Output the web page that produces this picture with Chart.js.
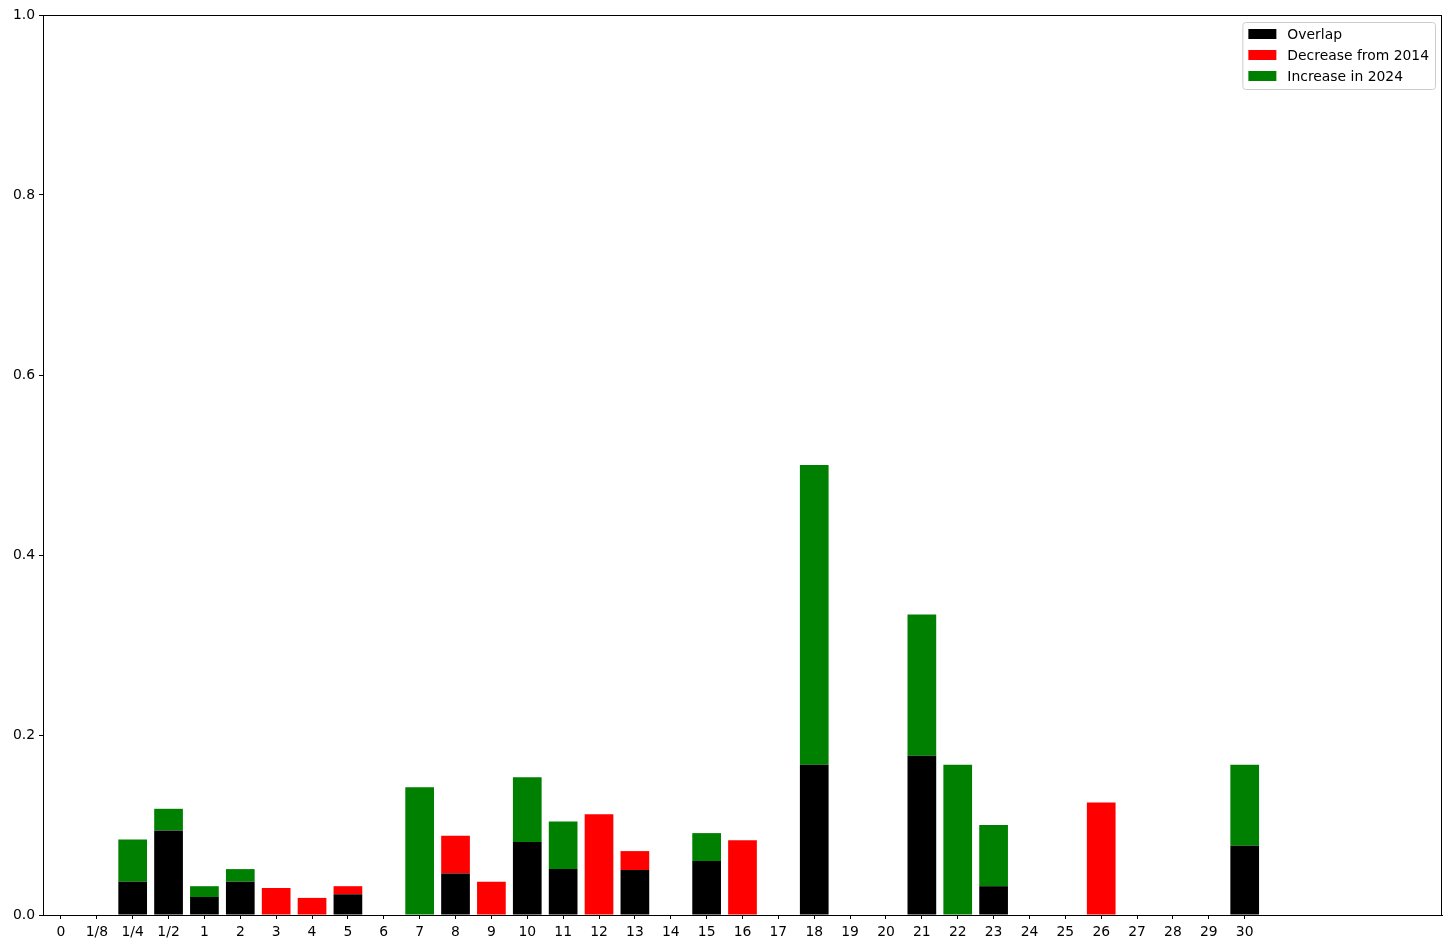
<!DOCTYPE html>
<html>
<head>
<meta charset="utf-8">
<script src="https://cdn.jsdelivr.net/npm/chart.js@4/dist/chart.umd.min.js"></script>
<style>
  html, body { margin: 0; padding: 0; background: #fff; }
  #wrap { width: 1451px; height: 949px; }
</style>
</head>
<body>
<div id="wrap"><canvas id="c"></canvas></div>
<script>
// categories on the x axis
const labels = ['0','1/8','1/4','1/2','1','2','3','4','5','6','7','8','9','10','11','12','13','14','15','16','17','18','19','20','21','22','23','24','25','26','27','28','29','30']

// stacked segments, one value per category
const overlap  = [0,0,0.037,0.094,0.020,0.037,0,0,0.023,0,0,0.046,0,0.081,0.051,0,0.050,0,0.060,0,0,0.167,0,0,0.177,0,0.032,0,0,0,0,0,0,0.077]
const decrease = [0,0,0,0,0,0,0.030,0.019,0.009,0,0,0.042,0.037,0,0,0.112,0.021,0,0,0.083,0,0,0,0,0,0,0,0,0,0.125,0,0,0,0]
const increase = [0,0,0.047,0.024,0.012,0.014,0,0,0,0,0.142,0,0,0.072,0.053,0,0,0,0.031,0,0,0.333,0,0,0.157,0.167,0.068,0,0,0,0,0,0,0.090]

const yTicks = [0, 0.2, 0.4, 0.6, 0.8, 1.0]

const FONT = 'DejaVu Sans'
Chart.defaults.font.family = FONT
Chart.defaults.font.size = 13.9
Chart.defaults.color = '#000'

const pts = arr => arr.map((v, i) => ({x: i, y: v}))

// full box around the axes like matplotlib spines
const frame = {
  id: 'frame',
  afterDraw(chart) {
    const {ctx, chartArea: a} = chart
    ctx.save()
    ctx.strokeStyle = '#000'
    ctx.lineWidth = 1
    ctx.strokeRect(a.left + 0.5, a.top + 0.5, a.right - a.left - 1, a.bottom - a.top)
    ctx.restore()
  }
}

// legend inside the upper right corner
const boxLegend = {
  id: 'boxLegend',
  afterDraw(chart) {
    const {ctx, chartArea: a} = chart
    const sets = chart.data.datasets
    ctx.save()
    ctx.font = '13.9px "' + FONT + '"'
    let tw = 0
    sets.forEach(d => { tw = Math.max(tw, ctx.measureText(d.label).width) })
    const pad = 6, patchW = 28, gap = 11, row = 21
    const w = pad + patchW + gap + tw + pad
    const h = sets.length * row + 4
    const x0 = a.right - 7 - w
    const y0 = a.top + 7
    ctx.fillStyle = 'rgba(255,255,255,0.8)'
    ctx.strokeStyle = '#cccccc'
    ctx.lineWidth = 1
    ctx.beginPath()
    ctx.roundRect(x0 + 0.5, y0 + 0.5, w, h, 3)
    ctx.fill()
    ctx.stroke()
    ctx.textBaseline = 'middle'
    sets.forEach((d, i) => {
      const cy = y0 + 12 + i * row
      ctx.fillStyle = d.backgroundColor
      ctx.fillRect(x0 + pad, cy - 5, patchW, 10)
      ctx.fillStyle = '#000'
      ctx.fillText(d.label, x0 + pad + patchW + gap, cy + 1)
    })
    ctx.restore()
  }
}

new Chart(
  document.getElementById('c'),
  {
    type: 'bar',
    data: {
      datasets: [
        { label: 'Overlap', data: pts(overlap), backgroundColor: '#000000' },
        { label: 'Decrease from 2014', data: pts(decrease), backgroundColor: '#ff0000' },
        { label: 'Increase in 2024', data: pts(increase), backgroundColor: '#008000' }
      ]
    },
    options: {
      responsive: true,
      maintainAspectRatio: false,
      animation: false,
      datasets: {
        bar: { barPercentage: 0.8, categoryPercentage: 1.0, borderWidth: 0 }
      },
      layout: { padding: { top: 15, right: 9, left: 0, bottom: 0 } },
      scales: {
        x: {
          type: 'linear',
          stacked: true,
          min: -0.5,
          max: 38.5,
          offset: false,
          afterBuildTicks: axis => { axis.ticks = labels.map((l, i) => ({value: i})) },
          afterFit: axis => { axis.height = 34 },
          ticks: {
            autoSkip: false,
            maxRotation: 0,
            padding: 5,
            callback: v => labels[v]
          },
          grid: { offset: false, drawOnChartArea: false, drawTicks: true, tickLength: 4, color: '#000' },
          border: { color: '#000', width: 1 }
        },
        y: {
          stacked: true,
          min: 0,
          max: 1,
          afterBuildTicks: axis => { axis.ticks = yTicks.map(v => ({value: v})) },
          afterFit: axis => { axis.width = 43 },
          ticks: {
            padding: 4,
            callback: v => v.toFixed(1)
          },
          grid: { drawOnChartArea: false, drawTicks: true, tickLength: 4, color: '#000' },
          border: { color: '#000', width: 1 }
        }
      },
      plugins: {
        legend: { display: false },
        tooltip: { enabled: false }
      }
    },
    plugins: [frame, boxLegend]
  }
)
</script>
</body>
</html>
